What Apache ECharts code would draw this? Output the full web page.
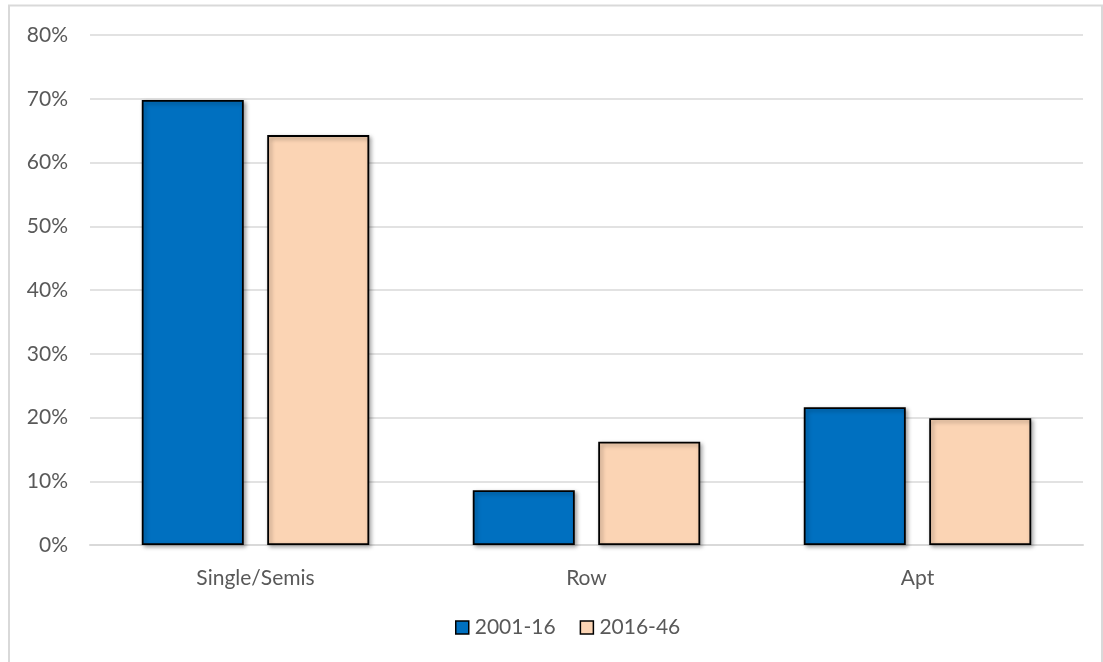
<!DOCTYPE html>
<html>
<head>
<meta charset="utf-8">
<script src="https://cdn.jsdelivr.net/npm/echarts@6/dist/echarts.min.js"></script>
<style>
  html, body { margin: 0; padding: 0; background: #fff; }
  #chart { width: 1103px; height: 662px; }
</style>
</head>
<body>
<div id="chart"></div>
<script>
// Dwelling-type shares of housing growth, two periods
const categories = ['Single/Semis', 'Row', 'Apt'];
const seriesNames = ['2001-16', '2016-46'];
const share2001to16 = [69.8, 8.6, 21.6];
const share2016to46 = [64.3, 16.2, 19.9];
const yTicks = { min: 0, max: 80, interval: 10 };

const FONT = 'Lato, "Open Sans", sans-serif';
const TEXT = '#595959';
const FS = 21;

const barStyle = (fill) => ({
  color: fill,
  borderColor: '#000',
  borderWidth: 1.8,
  shadowColor: 'rgba(0,0,0,0.35)',
  shadowBlur: 4,
  shadowOffsetX: 2,
  shadowOffsetY: 2
});

const chart = echarts.init(document.getElementById('chart'), null, { renderer: 'canvas' });
chart.setOption({
  animation: false,
  backgroundColor: '#fff',
  textStyle: { fontFamily: FONT },
  graphic: [{
    type: 'rect',
    shape: { x: 9, y: 5.5, width: 1093, height: 700 },
    style: { fill: 'none', stroke: '#d9d9d9', lineWidth: 2 },
    silent: true
  }],
  grid: { left: 90, right: 20, top: 35, bottom: 117, containLabel: false },
  legend: {
    data: seriesNames,
    bottom: 19,
    left: 450,
    padding: 5,
    itemWidth: 13,
    itemHeight: 13,
    itemGap: 24,
    icon: 'rect',
    textStyle: { color: TEXT, fontSize: FS, fontFamily: FONT, padding: [0, 0, 0, 1] },
    itemStyle: { borderColor: '#000', borderWidth: 1.5 }
  },
  xAxis: {
    type: 'category',
    data: categories,
    axisLine: { show: true, lineStyle: { color: '#d9d9d9', width: 2 } },
    axisTick: { show: false },
    axisLabel: { color: TEXT, fontSize: FS, fontFamily: FONT, margin: 23 }
  },
  yAxis: {
    type: 'value',
    min: yTicks.min,
    max: yTicks.max,
    interval: yTicks.interval,
    axisLine: { show: false },
    axisTick: { show: false },
    splitLine: { lineStyle: { color: '#d9d9d9', width: 1.5 } },
    axisLabel: { color: TEXT, fontSize: FS, fontFamily: FONT, margin: 22, formatter: '{value}%' }
  },
  series: [
    {
      name: seriesNames[0],
      type: 'bar',
      data: share2001to16,
      barWidth: 102,
      barGap: '23%',
      itemStyle: barStyle('#0070C0')
    },
    {
      name: seriesNames[1],
      type: 'bar',
      data: share2016to46,
      barWidth: 102,
      barGap: '23%',
      itemStyle: barStyle('#FBD4B4')
    }
  ]
});
</script>
</body>
</html>
